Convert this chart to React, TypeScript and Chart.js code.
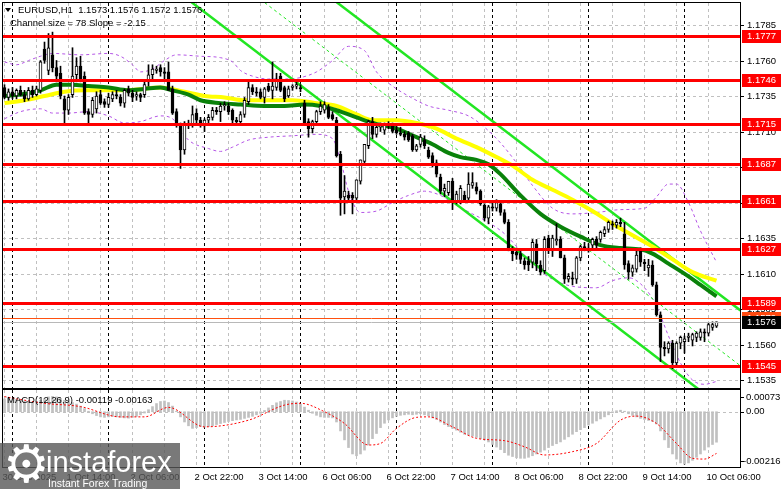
import React, { useEffect, useRef } from "react";
import { Chart, registerables } from "chart.js";

Chart.register(...registerables);

// ---------- DATA ----------
const symbolLabel = "EURUSD,H1";
const channelText = "Channel size = 78 Slope = -2.15";
const macdName = "MACD(12,26,9)";

const opens = [
  1.1741,1.1734,1.1738,1.1735,1.1739,1.1736,1.1733,1.1739,1.1736,1.1739,
  1.1768,1.1753,1.1764,1.1755,1.1751,1.1733,1.1725,1.1736,1.1750,1.1756,
  1.1749,1.1724,1.1722,1.1726,1.1736,1.1731,1.1729,1.1733,1.1736,1.1734,
  1.1730,1.1740,1.1737,1.1735,1.1736,1.1736,1.1745,1.1750,1.1753,1.1755,
  1.1752,1.1752,1.1740,1.1724,1.1714,1.1697,1.1715,1.1715,1.1723,1.1718,
  1.1714,1.1718,1.1720,1.1725,1.1724,1.1728,1.1728,1.1725,1.1718,1.1717,
  1.1722,1.1731,1.1741,1.1738,1.1738,1.1734,1.1742,1.1739,1.1741,1.1749,
  1.1741,1.1735,1.1741,1.1742,1.1741,1.1730,1.1717,1.1712,1.1717,1.1724,
  1.1725,1.1727,1.1722,1.1718,1.1694,1.1664,1.1665,1.1665,1.1663,1.1675,
  1.1689,1.1700,1.1717,1.1708,1.1713,1.1711,1.1715,1.1714,1.1711,1.1709,
  1.1708,1.1709,1.1707,1.1697,1.1701,1.1704,1.1697,1.1693,1.1688,1.1678,
  1.1668,1.1667,1.1675,1.1661,1.1661,1.1665,1.1663,1.1672,1.1671,1.1668,
  1.1658,1.1649,1.1657,1.1656,1.1659,1.1653,1.1646,1.1627,1.1625,1.1624,
  1.1619,1.1619,1.1618,1.1631,1.1616,1.1612,1.1635,1.1626,1.1633,1.1634,
  1.1621,1.1606,1.1607,1.1606,1.1621,1.1629,1.1628,1.1630,1.1634,1.1634,
  1.1638,1.1641,1.1645,1.1644,1.1646,1.1638,1.1617,1.1611,1.1613,1.1626,
  1.1618,1.1614,1.1616,1.1602,1.1581,1.1558,1.1557,1.1561,1.1547,1.1561,
  1.1562,1.1565,1.1563,1.1565,1.1565,1.1569,1.1568,1.1572,1.1573,
];
const highs = [
  1.1743,1.1740,1.1741,1.1740,1.1742,1.1739,1.1741,1.1742,1.1742,1.1760,
  1.1773,1.1779,1.1780,1.1760,1.1756,1.1735,1.1736,1.1769,1.1762,1.1763,
  1.1752,1.1726,1.1734,1.1738,1.1739,1.1733,1.1737,1.1738,1.1739,1.1736,
  1.1740,1.1742,1.1739,1.1738,1.1737,1.1745,1.1757,1.1757,1.1756,1.1757,
  1.1755,1.1759,1.1742,1.1726,1.1716,1.1717,1.1718,1.1728,1.1726,1.1720,
  1.1719,1.1722,1.1727,1.1727,1.1730,1.1731,1.1730,1.1726,1.1720,1.1724,
  1.1734,1.1745,1.1743,1.1741,1.1740,1.1741,1.1744,1.1759,1.1751,1.1751,
  1.1742,1.1742,1.1743,1.1745,1.1743,1.1732,1.1719,1.1718,1.1725,1.1731,
  1.1731,1.1729,1.1724,1.1720,1.1696,1.1679,1.1668,1.1667,1.1676,1.1690,
  1.1701,1.1718,1.1720,1.1715,1.1716,1.1716,1.1717,1.1716,1.1715,1.1713,
  1.1710,1.1710,1.1708,1.1701,1.1708,1.1707,1.1699,1.1695,1.1690,1.1680,
  1.1673,1.1675,1.1677,1.1668,1.1672,1.1668,1.1681,1.1681,1.1674,1.1669,
  1.1659,1.1658,1.1660,1.1662,1.1661,1.1655,1.1648,1.1629,1.1628,1.1627,
  1.1621,1.1622,1.1634,1.1634,1.1619,1.1636,1.1637,1.1637,1.1645,1.1636,
  1.1623,1.1610,1.1611,1.1622,1.1630,1.1632,1.1631,1.1635,1.1636,1.1640,
  1.1643,1.1647,1.1647,1.1648,1.1649,1.1646,1.1619,1.1616,1.1626,1.1628,
  1.1620,1.1620,1.1619,1.1604,1.1583,1.1562,1.1562,1.1563,1.1562,1.1566,
  1.1566,1.1568,1.1568,1.1569,1.1571,1.1571,1.1575,1.1576,1.1576,
];
const lows = [
  1.1733,1.1732,1.1733,1.1733,1.1735,1.1731,1.1732,1.1734,1.1735,1.1737,
  1.1758,1.1750,1.1752,1.1745,1.1733,1.1716,1.1722,1.1734,1.1745,1.1745,
  1.1722,1.1716,1.1720,1.1723,1.1729,1.1727,1.1727,1.1731,1.1733,1.1728,
  1.1727,1.1735,1.1731,1.1732,1.1731,1.1734,1.1742,1.1747,1.1751,1.1749,
  1.1746,1.1739,1.1722,1.1713,1.1684,1.1694,1.1712,1.1713,1.1716,1.1713,
  1.1710,1.1716,1.1718,1.1722,1.1717,1.1725,1.1722,1.1716,1.1716,1.1715,
  1.1720,1.1729,1.1736,1.1735,1.1733,1.1730,1.1738,1.1733,1.1739,1.1738,
  1.1731,1.1734,1.1739,1.1740,1.1738,1.1715,1.1706,1.1709,1.1715,1.1722,
  1.1723,1.1719,1.1718,1.1692,1.1651,1.1652,1.1660,1.1652,1.1660,1.1673,
  1.1686,1.1698,1.1705,1.1706,1.1710,1.1708,1.1712,1.1709,1.1708,1.1707,
  1.1704,1.1703,1.1696,1.1696,1.1699,1.1698,1.1691,1.1685,1.1678,1.1666,
  1.1664,1.1665,1.1655,1.1659,1.1659,1.1660,1.1660,1.1670,1.1666,1.1658,
  1.1647,1.1645,1.1654,1.1654,1.1651,1.1645,1.1626,1.1619,1.1620,1.1617,
  1.1613,1.1612,1.1614,1.1612,1.1609,1.1610,1.1624,1.1622,1.1630,1.1621,
  1.1603,1.1604,1.1602,1.1603,1.1619,1.1626,1.1625,1.1628,1.1628,1.1632,
  1.1636,1.1639,1.1641,1.1642,1.1643,1.1613,1.1606,1.1608,1.1611,1.1615,
  1.1612,1.1608,1.1601,1.1580,1.1548,1.1552,1.1554,1.1543,1.1545,1.1557,
  1.1554,1.1562,1.1559,1.1562,1.1563,1.1562,1.1566,1.1570,1.1572,
];
const closes = [
  1.1734,1.1738,1.1735,1.1739,1.1736,1.1733,1.1739,1.1736,1.1740,1.1759,
  1.1760,1.1769,1.1755,1.1749,1.1735,1.1725,1.1734,1.1749,1.1756,1.1747,
  1.1723,1.1722,1.1732,1.1735,1.1730,1.1729,1.1734,1.1736,1.1735,1.1730,
  1.1739,1.1737,1.1734,1.1736,1.1734,1.1743,1.1750,1.1754,1.1754,1.1752,
  1.1751,1.1739,1.1723,1.1715,1.1697,1.1716,1.1716,1.1722,1.1718,1.1714,
  1.1718,1.1720,1.1725,1.1724,1.1728,1.1729,1.1724,1.1718,1.1717,1.1722,
  1.1732,1.1741,1.1738,1.1737,1.1734,1.1740,1.1739,1.1742,1.1747,1.1739,
  1.1733,1.1740,1.1742,1.1743,1.1740,1.1716,1.1712,1.1717,1.1724,1.1728,
  1.1729,1.1720,1.1719,1.1693,1.1663,1.1668,1.1663,1.1663,1.1676,1.1690,
  1.1701,1.1717,1.1708,1.1713,1.1715,1.1715,1.1714,1.1710,1.1709,1.1708,
  1.1706,1.1704,1.1697,1.1700,1.1706,1.1700,1.1692,1.1688,1.1680,1.1668,
  1.1670,1.1675,1.1661,1.1666,1.1670,1.1662,1.1673,1.1674,1.1668,1.1659,
  1.1649,1.1657,1.1656,1.1660,1.1653,1.1646,1.1627,1.1624,1.1623,1.1620,
  1.1616,1.1616,1.1632,1.1617,1.1611,1.1634,1.1627,1.1635,1.1634,1.1621,
  1.1606,1.1608,1.1606,1.1621,1.1629,1.1628,1.1627,1.1634,1.1630,1.1639,
  1.1641,1.1646,1.1644,1.1646,1.1645,1.1616,1.1611,1.1614,1.1623,1.1618,
  1.1617,1.1616,1.1602,1.1581,1.1558,1.1557,1.1561,1.1547,1.1561,1.1565,
  1.1564,1.1566,1.1567,1.1568,1.1569,1.1568,1.1574,1.1574,1.1576,
];

// moving averages (read at sample bars)
const maSlowBars = [0,5,10,15,20,30,39,45,50,55,60,66,72,78,83,88,92,98,103,108,113,118,123,127,132,137,142,147,152,157,162,167,172,178];
const maSlow = [1.1730,1.1732,1.1735,1.1738,1.1739,1.1739,1.1741,1.1738,1.1735,1.1734,1.1732,1.1732,1.1732,1.1730,1.1728,1.1722,1.1718,1.1718,1.1716,1.1712,1.1705,1.1699,1.1692,1.1686,1.1676,1.1669,1.1662,1.1654,1.1645,1.1637,1.1629,1.1620,1.1611,1.1605];
const maFastBars = [0,4,9,13,17,21,26,31,35,39,42,46,49,54,59,65,70,75,79,83,88,92,98,103,107,111,114,118,121,124,129,134,139,144,149,154,159,162,166,171,174,178];
const maFast = [1.1735,1.1736,1.1739,1.1743,1.1743,1.1742,1.1741,1.1739,1.1740,1.1741,1.1739,1.1736,1.1732,1.1730,1.1729,1.1728,1.1728,1.1729,1.1728,1.1725,1.1720,1.1716,1.1712,1.1706,1.1701,1.1695,1.1692,1.1690,1.1687,1.1680,1.1665,1.1652,1.1643,1.1636,1.1630,1.1628,1.1627,1.1624,1.1617,1.1608,1.1602,1.1594];

// envelope bands (purple dashed)
const bandUpperBars = [0,3,6,9,12,19,26,29,32,34,37,40,43,49,54,57,59,62,66,70,74,78,82,86,90,93,97,101,106,111,116,120,124,128,132,137,142,148,154,160,163,166,168,171,174,178];
const bandUpper = [1.1759,1.1757,1.1760,1.1763,1.1765,1.1764,1.1765,1.1763,1.1757,1.1752,1.1754,1.1760,1.1764,1.1763,1.1762,1.1759,1.1753,1.1749,1.1747,1.1747,1.1748,1.1752,1.1760,1.1770,1.1767,1.1752,1.1742,1.1735,1.1728,1.1725,1.1721,1.1713,1.1702,1.1688,1.1672,1.1656,1.1652,1.1653,1.1655,1.1656,1.1664,1.1673,1.1673,1.1660,1.1640,1.1618];
const bandLowerBars = [0,4,9,12,16,21,26,30,34,39,42,46,51,54,57,61,66,72,78,82,84,86,89,93,97,101,105,109,113,117,121,125,129,133,137,142,148,152,156,160,163,166,169,172,175,178];
const bandLower = [1.1719,1.1724,1.1726,1.1723,1.1723,1.1724,1.1721,1.1716,1.1717,1.1721,1.1719,1.1704,1.1698,1.1696,1.1699,1.1704,1.1706,1.1707,1.1708,1.1705,1.1690,1.1668,1.1653,1.1654,1.1660,1.1665,1.1668,1.1665,1.1658,1.1652,1.1646,1.1638,1.1626,1.1614,1.1606,1.1601,1.1600,1.1605,1.1607,1.1600,1.1587,1.1566,1.1547,1.1535,1.1532,1.1534];

// regression channel (endpoints, bars / prices)
const channelBars = [40, 184];
const channelLower = [1.18156, 1.15060];
const channelMid = [1.18546, 1.15450];
const channelUpper = [1.18936, 1.15840];

// horizontal levels
const levels = [1.1777, 1.1746, 1.1715, 1.1687, 1.1661, 1.1627, 1.1589, 1.1545];
const orangeLevel = 1.1579;
const priceTicks = [1.1785, 1.1760, 1.1735, 1.1710, 1.1685, 1.1660, 1.1635, 1.1610, 1.1585, 1.1560, 1.1535];
const priceMin = 1.15294;
const priceMax = 1.18005;

// MACD (histogram in 1e-5 units, signal sampled)
const macdHistE5 = [
  50,52,50,48,45,42,40,38,40,45,52,58,60,58,52,45,40,36,30,22,
  12,2,-8,-15,-20,-22,-20,-18,-20,-22,-24,-25,-22,-18,-12,-5,
  8,20,32,40,42,36,
  22,2,-20,-40,-55,-65,-62,-58,
  -60,-58,-55,-50,-46,-42,-38,-35,-32,-30,-26,-22,-18,-12,-6,
  5,15,25,35,40,45,44,42,38,30,18,6,
  -6,-14,-20,-22,-22,-24,-40,
  -75,-110,-140,-165,-172,-165,-150,
  -130,-105,-85,-62,-45,-32,-24,-18,
  -14,-12,-10,-12,-10,-8,-12,-16,
  -24,-30,-40,-50,-58,-65,-72,-80,-88,-92,-95,-100,
  -105,-110,-118,-128,-138,-148,-160,-170,-175,-180,-182,-182,-178,-172,
  -165,-158,-150,-140,-132,-125,-118,-108,-98,-88,-78,-70,-62,-52,-45,-36,-28,-20,-12,
  -4,4,6,2,
  -8,-14,-20,-26,-30,-34,-38,-48,
  -75,-110,-140,-165,-185,-200,-205,
  -200,-190,-178,-165,-150,-138,-128,-119,
];
const macdHist = macdHistE5.map((v) => v / 100000);
const signalBars = [0,10,19,29,35,41,50,61,70,74,80,85,91,94,98,103,106,112,118,125,130,135,142,148,154,158,163,168,172,175,178];
const signal = [0.00059,0.00033,0.00020,-0.00020,-0.00020,0.00017,-0.00059,-0.00033,0.00026,0.00033,0,-0.00046,-0.00130,-0.00124,-0.00065,-0.00022,-0.00020,-0.00059,-0.00104,-0.00113,-0.00137,-0.00169,-0.00156,-0.00124,-0.00033,-0.00017,-0.00046,-0.00124,-0.00182,-0.00185,-0.00163];
const macdMin = -0.00216;
const macdMax = 0.00085;
const macdTicks = [0.00073, 0, -0.00216];

// time axis
const daySeparators = [2, 26, 50, 74, 98, 122, 146, 170];
const xLabelBars = [0, 16, 32, 48, 64, 80, 96, 112, 128, 144, 160, 176];
const xLabels = ["30 Sep 2025", "1 Oct 14:00", "2 Oct 06:00", "2 Oct 22:00", "3 Oct 14:00", "6 Oct 06:00", "6 Oct 22:00", "7 Oct 14:00", "8 Oct 06:00", "8 Oct 22:00", "9 Oct 14:00", "10 Oct 06:00"];

// ---------- STYLE ----------
const FONT = '9.5px "Liberation Sans", Arial, sans-serif';
const X_MIN = -0.375;
const X_MAX = 183.875;
const GRID_STEP = 8;
const PURPLE = "#b455e6";
const LIME = "#22e622";

function pts(bars: number[], vals: number[]) {
  return bars.map((b, i) => ({ x: b, y: vals[i] }));
}

function seg(ctx: any, x1: number, y1: number, x2: number, y2: number) {
  ctx.beginPath();
  ctx.moveTo(x1, y1);
  ctx.lineTo(x2, y2);
  ctx.stroke();
}

function drawVerticalGrid(chart: any) {
  const { ctx, chartArea: a } = chart;
  const x = chart.scales.x;
  ctx.save();
  ctx.lineWidth = 1;
  ctx.setLineDash([3, 3]);
  ctx.strokeStyle = "#c0c0c0";
  for (let b = 0; b <= X_MAX; b += GRID_STEP) {
    const px = Math.floor(x.getPixelForValue(b)) + 0.5;
    seg(ctx, px, a.top, px, a.bottom);
  }
  ctx.strokeStyle = "#000";
  for (const b of daySeparators) {
    const px = Math.floor(x.getPixelForValue(b)) + 0.5;
    seg(ctx, px, a.top, px, a.bottom);
  }
  ctx.restore();
}

function drawBorder(chart: any) {
  const { ctx, chartArea: a } = chart;
  ctx.save();
  ctx.setLineDash([]);
  ctx.strokeStyle = "#000";
  ctx.lineWidth = 1;
  ctx.strokeRect(a.left - 0.5, a.top - 0.5, a.right - a.left + 1, a.bottom - a.top + 1);
  ctx.restore();
}

function priceBox(ctx: any, a: any, py: number, bg: string, txt: string) {
  ctx.fillStyle = bg;
  ctx.fillRect(a.right + 2, Math.round(py) - 6, 39, 13);
  ctx.fillStyle = "#fff";
  ctx.fillText(txt, a.right + 7, Math.round(py) + 0.5);
}

const mainDecor = {
  id: "mainDecor",
  beforeDatasetsDraw(chart: any) {
    const { ctx, chartArea: a } = chart;
    const y = chart.scales.y;
    ctx.save();
    ctx.lineWidth = 1;
    ctx.setLineDash([3, 3]);
    ctx.strokeStyle = "#c0c0c0";
    for (const p of priceTicks) {
      const py = Math.round(y.getPixelForValue(p)) + 0.5;
      seg(ctx, a.left, py, a.right, py);
    }
    ctx.restore();
    drawVerticalGrid(chart);
  },
  afterDatasetsDraw(chart: any) {
    const { ctx, chartArea: a } = chart;
    const y = chart.scales.y;
    ctx.save();
    ctx.beginPath();
    ctx.rect(a.left, a.top, a.right - a.left, a.bottom - a.top);
    ctx.clip();
    ctx.setLineDash([]);
    ctx.strokeStyle = "#ff0000";
    ctx.lineWidth = 3;
    for (const lv of levels) {
      const py = Math.round(y.getPixelForValue(lv)) + 0.5;
      seg(ctx, a.left, py, a.right, py);
    }
    ctx.lineWidth = 1;
    ctx.strokeStyle = "#ff5010";
    let py = Math.round(y.getPixelForValue(orangeLevel)) + 0.5;
    seg(ctx, a.left, py, a.right, py);
    ctx.strokeStyle = "#b8b8b8";
    py = Math.round(y.getPixelForValue(closes[closes.length - 1])) + 0.5;
    seg(ctx, a.left, py, a.right, py);
    ctx.restore();
    drawBorder(chart);
  },
  afterDraw(chart: any) {
    const { ctx, chartArea: a } = chart;
    const y = chart.scales.y;
    ctx.save();
    ctx.font = FONT;
    ctx.textBaseline = "middle";
    ctx.textAlign = "left";
    ctx.strokeStyle = "#000";
    ctx.lineWidth = 1;
    for (const p of priceTicks) {
      const py = Math.round(y.getPixelForValue(p)) + 0.5;
      seg(ctx, a.right, py, a.right + 4, py);
      ctx.fillStyle = "#000";
      ctx.fillText(p.toFixed(4), a.right + 7, py);
    }
    for (const lv of levels) {
      priceBox(ctx, a, y.getPixelForValue(lv), "#ff0000", lv.toFixed(4));
    }
    priceBox(ctx, a, y.getPixelForValue(orangeLevel), "#ff4a10", orangeLevel.toFixed(4));
    const last = closes.length - 1;
    priceBox(ctx, a, y.getPixelForValue(closes[last]), "#000000", closes[last].toFixed(4));

    // header
    ctx.fillStyle = "#000";
    ctx.beginPath();
    ctx.moveTo(5, 8);
    ctx.lineTo(11, 8);
    ctx.lineTo(8, 12);
    ctx.closePath();
    ctx.fill();
    const head = `${symbolLabel}  ${opens[last].toFixed(4)} ${highs[last].toFixed(4)} ${lows[last].toFixed(4)} ${closes[last].toFixed(4)}`;
    ctx.fillText(head, 18, 10);
    ctx.fillText(channelText, 10, 23);
    ctx.restore();
  },
};

const macdDecor = {
  id: "macdDecor",
  beforeDatasetsDraw(chart: any) {
    const { ctx, chartArea: a } = chart;
    const y = chart.scales.y;
    ctx.save();
    ctx.lineWidth = 1;
    ctx.setLineDash([3, 3]);
    ctx.strokeStyle = "#c0c0c0";
    const py = Math.round(y.getPixelForValue(0)) + 0.5;
    seg(ctx, a.left, py, a.right, py);
    ctx.restore();
    drawVerticalGrid(chart);
  },
  afterDatasetsDraw(chart: any) {
    drawBorder(chart);
  },
  afterDraw(chart: any) {
    const { ctx, chartArea: a } = chart;
    const y = chart.scales.y;
    const x = chart.scales.x;
    ctx.save();
    ctx.font = FONT;
    ctx.textBaseline = "middle";
    ctx.textAlign = "left";
    ctx.fillStyle = "#000";
    ctx.strokeStyle = "#000";
    ctx.lineWidth = 1;
    for (const v of macdTicks) {
      let py = y.getPixelForValue(v);
      py = Math.max(a.top + 7, Math.min(a.bottom - 6, py));
      seg(ctx, a.right, Math.round(py) + 0.5, a.right + 4, Math.round(py) + 0.5);
      const txt = v === 0 ? "0.00" : v.toFixed(5);
      ctx.fillText(txt, a.right + (v < 0 ? 3 : 6), py);
    }
    const last = macdHist.length - 1;
    ctx.fillText(`${macdName} ${macdHist[last].toFixed(5)} ${signal[signal.length - 1].toFixed(5)}`, 7, a.top + 10);
    for (let i = 0; i < xLabelBars.length; i++) {
      const px = x.getPixelForValue(xLabelBars[i]) - 2;
      ctx.fillText(xLabels[i], px, a.bottom + 10);
    }
    ctx.restore();
  },
};

export default function App() {
  const mainRef = useRef<HTMLCanvasElement>(null);
  const macdRef = useRef<HTMLCanvasElement>(null);

  useEffect(() => {
    const idx = closes.map((_, i) => i);
    const xScale = { type: "linear", display: false, min: X_MIN, max: X_MAX, offset: false };
    const main = new Chart(mainRef.current as HTMLCanvasElement, {
      type: "bar",
      data: {
        datasets: [
          { type: "line", data: pts(bandUpperBars, bandUpper), borderColor: PURPLE, borderWidth: 1, borderDash: [3, 3], pointRadius: 0, cubicInterpolationMode: "monotone", order: 10 },
          { type: "line", data: pts(bandLowerBars, bandLower), borderColor: PURPLE, borderWidth: 1, borderDash: [3, 3], pointRadius: 0, cubicInterpolationMode: "monotone", order: 10 },
          { type: "line", data: pts(channelBars, channelMid), borderColor: LIME, borderWidth: 1, borderDash: [3, 3], pointRadius: 0, order: 9 },
          { type: "line", data: pts(channelBars, channelLower), borderColor: LIME, borderWidth: 2.5, pointRadius: 0, order: 8 },
          { type: "line", data: pts(channelBars, channelUpper), borderColor: LIME, borderWidth: 2.5, pointRadius: 0, order: 8 },
          { type: "line", data: pts(maSlowBars, maSlow), borderColor: "#ffff00", borderWidth: 4, pointRadius: 0, cubicInterpolationMode: "monotone", order: 7 },
          { type: "line", data: pts(maFastBars, maFast), borderColor: "#0a820a", borderWidth: 4, pointRadius: 0, cubicInterpolationMode: "monotone", order: 6 },
          { type: "bar", data: idx.map((i) => ({ x: i, y: [lows[i], highs[i]] })), backgroundColor: "#000", barThickness: 1, grouped: false, order: 2 },
          {
            type: "bar",
            data: idx.map((i) => ({ x: i, y: [opens[i], closes[i]] })),
            backgroundColor: idx.map((i) => (closes[i] >= opens[i] ? "#ffffff" : "#000000")),
            borderColor: "#000",
            borderWidth: 1,
            borderSkipped: false,
            barThickness: 3,
            minBarLength: 1,
            grouped: false,
            order: 1,
          },
        ],
      } as any,
      options: {
        responsive: false,
        animation: false,
        devicePixelRatio: 1,
        events: [],
        layout: { padding: { left: 3, right: 41, top: 3, bottom: 1 } },
        plugins: { legend: { display: false }, tooltip: { enabled: false } },
        scales: {
          x: xScale,
          y: { type: "linear", display: false, min: priceMin, max: priceMax, bounds: "data" },
        },
      } as any,
      plugins: [mainDecor],
    });

    const macd = new Chart(macdRef.current as HTMLCanvasElement, {
      type: "bar",
      data: {
        datasets: [
          { type: "line", data: pts(signalBars, signal), borderColor: "#ff0000", borderWidth: 1, borderDash: [2, 2], pointRadius: 0, cubicInterpolationMode: "monotone", order: 1 },
          { type: "bar", data: idx.map((i) => ({ x: i, y: macdHist[i] })), backgroundColor: "#c0c0c0", barThickness: 2, grouped: false, order: 2 },
        ],
      } as any,
      options: {
        responsive: false,
        animation: false,
        devicePixelRatio: 1,
        events: [],
        layout: { padding: { left: 3, right: 41, top: 1, bottom: 22 } },
        plugins: { legend: { display: false }, tooltip: { enabled: false } },
        scales: {
          x: xScale,
          y: { type: "linear", display: false, min: macdMin, max: macdMax, bounds: "data" },
        },
      } as any,
      plugins: [macdDecor],
    });

    return () => {
      main.destroy();
      macd.destroy();
    };
  }, []);

  return (
    <div style={{ position: "fixed", left: 0, top: 0, width: 781, height: 489, background: "#fff", overflow: "hidden" }}>
      <canvas ref={mainRef} width={781} height={389} style={{ position: "absolute", left: 0, top: 0, width: 781, height: 389 }} />
      <canvas ref={macdRef} width={781} height={100} style={{ position: "absolute", left: 0, top: 389, width: 781, height: 100 }} />
      <div style={{ position: "absolute", left: 0, top: 443, width: 180, height: 46, background: "rgba(88,88,88,0.8)", color: "#fff", fontFamily: '"Liberation Sans", Arial, sans-serif' }}>
        <div style={{ position: "absolute", left: 3, top: -8, fontSize: 52, lineHeight: "58px", fontFamily: '"DejaVu Sans", sans-serif' }}>⚙</div>
        <div style={{ position: "absolute", left: 46, top: 5, fontSize: 29, lineHeight: "29px" }}>instaforex</div>
        <div style={{ position: "absolute", left: 48, top: 35, fontSize: 10.5, lineHeight: "10.5px" }}>Instant Forex Trading</div>
      </div>
    </div>
  );
}
